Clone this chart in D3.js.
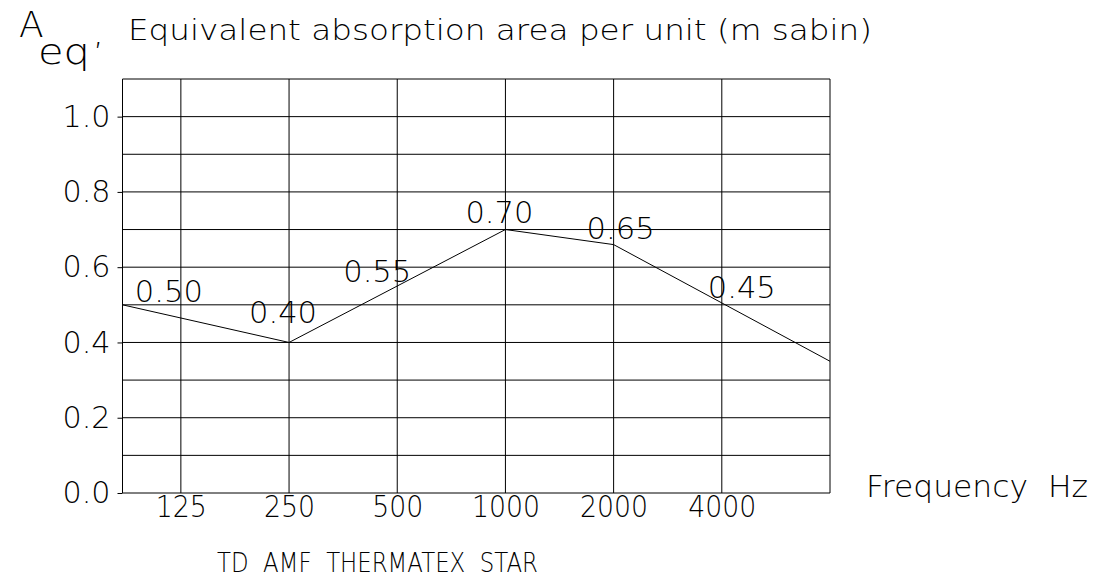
<!DOCTYPE html>
<html>
<head>
<meta charset="utf-8">
<script src="https://cdn.jsdelivr.net/npm/d3@7"></script>
<style>
body { margin: 0; background: #fff; }
text { font-family: "DejaVu Sans ExtraLight", "DejaVu Sans", sans-serif; font-weight: 200; fill: #000; white-space: pre; }
</style>
</head>
<body>
<div id="chart"></div>
<script>
// octave bands on the x axis
var freqs = [125, 250, 500, 1000, 2000, 4000];
var freqLabels = ["125", "250", "500", "1000", "2000", "4000"];
// y ticks and grid
var yTicks = [0, 0.2, 0.4, 0.6, 0.8, 1.0];
var yGrid = [0, 0.1, 0.2, 0.3, 0.4, 0.5, 0.6, 0.7, 0.8, 0.9, 1.0, 1.1];
// the drawn curve (from left edge to right edge of the frame)
var curveFreq = [86, 250, 1000, 2000, 8000];
var curveVal = [0.50, 0.40, 0.70, 0.66, 0.35];
// value written at each band
var bandVal = [0.50, 0.40, 0.55, 0.70, 0.65, 0.45];
var bandText = ["0.50", "0.40", "0.55", "0.70", "0.65", "0.45"];

var w_svg = 1107, h_svg = 578;
var fontFam = "'DejaVu Sans ExtraLight', 'DejaVu Sans', sans-serif";
// where the value labels sit relative to their band / value
var labelNudge = [[-12, -3], [-6, -19], [-20, -4], [-6, -7], [7, -9], [20, -26]];

var x = d3.scaleLog().base(2).domain([86, 8000]).range([122.5, 830]);
var y = d3.scaleLinear().domain([0, 1.1]).range([493, 79]);

var svg = d3.select("#chart")
  .append("svg")
  .attr("width", w_svg)
  .attr("height", h_svg);

var x0 = x.range()[0], x1 = x.range()[1];

// horizontal grid
svg.selectAll("line.hg")
  .data(yGrid)
  .enter()
  .append("line")
  .attr("class", "hg")
  .attr("x1", x0).attr("x2", x1)
  .attr("y1", function(d) { return y(d) })
  .attr("y2", function(d) { return y(d) })
  .style("stroke", "#000")
  .style("stroke-width", "1px");

// vertical grid + frame edges
svg.selectAll("line.vg")
  .data([86].concat(freqs, [8000]))
  .enter()
  .append("line")
  .attr("class", "vg")
  .attr("x1", function(d) { return x(d) })
  .attr("x2", function(d) { return x(d) })
  .attr("y1", y(0)).attr("y2", y(1.1))
  .style("stroke", "#000")
  .style("stroke-width", "1px");

// y axis labels
var yAxis = svg.append("g")
  .attr("transform", "translate(" + x0 + ",0)")
  .call(d3.axisLeft(y).tickValues(yTicks).tickFormat(d3.format(".1f")).tickSize(5).tickPadding(7));
yAxis.select(".domain").remove();
yAxis.selectAll("line").style("stroke", "#000");
yAxis.selectAll("text")
  .style("font-size", "30px")
  .style("font-family", fontFam)
  .attr("textLength", 48).attr("lengthAdjust", "spacingAndGlyphs");

// x axis labels
var xAxis = svg.append("g")
  .attr("transform", "translate(0," + y(0) + ")")
  .call(d3.axisBottom(x).tickValues(freqs).tickFormat(function(d, i) { return freqLabels[i] }).tickSize(0).tickPadding(3));
xAxis.select(".domain").remove();
xAxis.selectAll("text")
  .style("font-size", "30px")
  .style("font-family", fontFam)
  .attr("textLength", function(d, i) { return freqLabels[i].length * 17 })
  .attr("lengthAdjust", "spacingAndGlyphs");

// the curve
var line = d3.line()
  .x(function(d) { return x(d[0]) })
  .y(function(d) { return y(d[1]) });
svg.append("path")
  .datum(curveFreq.map(function(f, i) { return [f, curveVal[i]] }))
  .attr("d", line)
  .style("fill", "none")
  .style("stroke", "#000")
  .style("stroke-width", "1px");

// band values
svg.selectAll("text.val")
  .data(bandVal)
  .enter()
  .append("text")
  .attr("class", "val")
  .attr("x", function(d, i) { return x(freqs[i]) + labelNudge[i][0] })
  .attr("y", function(d, i) { return y(d) + labelNudge[i][1] })
  .attr("text-anchor", "middle")
  .attr("textLength", 68).attr("lengthAdjust", "spacingAndGlyphs")
  .style("font-size", "30px")
  .text(function(d, i) { return bandText[i] });

// titles
svg.append("text").attr("x", 19).attr("y", 37).style("font-size", "36px").text("A");
svg.append("text").attr("x", 38).attr("y", 64)
  .attr("textLength", 52).attr("lengthAdjust", "spacingAndGlyphs")
  .style("font-size", "36px").text("eq");
svg.append("text").attr("x", 93).attr("y", 44).style("font-size", "34px").text(",");
svg.append("text").attr("x", 128).attr("y", 40)
  .attr("textLength", 744).attr("lengthAdjust", "spacingAndGlyphs")
  .style("font-size", "29px")
  .text("Equivalent absorption area per unit (m sabin)");
svg.append("text").attr("x", 866).attr("y", 497)
  .attr("textLength", 222).attr("lengthAdjust", "spacingAndGlyphs")
  .style("font-size", "30px")
  .text("Frequency  Hz");
svg.append("text").attr("x", 217).attr("y", 572)
  .attr("textLength", 321).attr("lengthAdjust", "spacingAndGlyphs")
  .style("font-size", "26px")
  .text("TD  AMF  THERMATEX  STAR");
</script>
</body>
</html>
